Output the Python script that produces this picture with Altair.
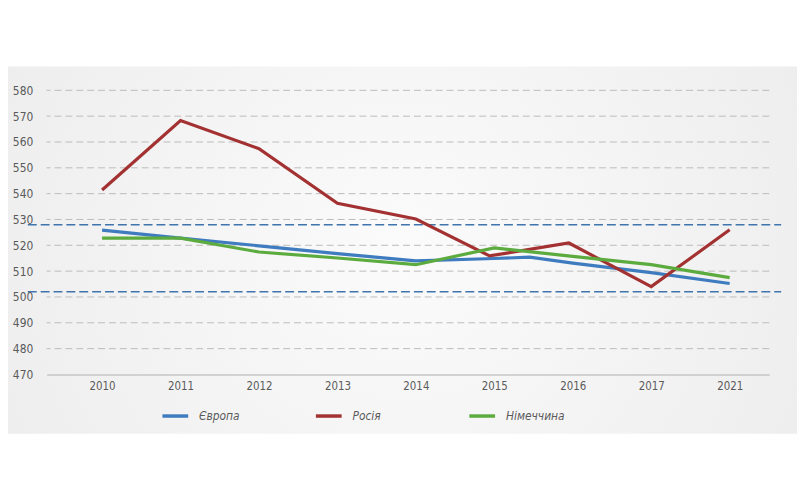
import altair as alt
import pandas as pd

# ---- data ----
years = ["2010", "2011", "2012", "2013", "2014", "2015", "2016", "2017", "2021"]
series_names = ["Європа", "Росія", "Німеччина"]
series_colors = ["#3f7cbf", "#a33131", "#5cab3f"]

europe_pos = [0, 1, 2, 3, 4, 5, 5.45, 6, 7, 8]
europe_val = [525.9, 522.8, 519.8, 516.8, 514.0, 514.9, 515.4, 513.1, 509.4, 505.2]

russia_pos = [0, 1, 2, 3, 4, 4.94, 5.95, 7, 8]
russia_val = [541.4, 568.3, 557.4, 536.3, 530.2, 515.9, 520.9, 504.0, 526.0]

germany_pos = [0, 1, 2, 3, 4, 5, 6, 7, 8]
germany_val = [522.8, 522.8, 517.4, 515.1, 512.5, 519.0, 515.7, 512.5, 507.5]

ref_levels = [528, 502]
y_ticks = [470, 480, 490, 500, 510, 520, 530, 540, 550, 560, 570, 580]
grid_ticks = y_ticks[1:]

FONT = "DejaVu Sans Condensed, Liberation Sans Narrow, Liberation Sans, sans-serif"

rows = []
for name, ps, vs in [
    (series_names[0], europe_pos, europe_val),
    (series_names[1], russia_pos, russia_val),
    (series_names[2], germany_pos, germany_val),
]:
    for p, v in zip(ps, vs):
        rows.append({"series": name, "pos": p, "value": v})
df = pd.DataFrame(rows)

W, H = 730, 287
x_scale = alt.Scale(domain=[-0.707, 8.505], nice=False, zero=False)
y_scale = alt.Scale(domain=[470, 580], nice=False, zero=False)

label_expr = "[" + ",".join("'%s'" % y for y in years) + "][datum.value]"

y_axis = alt.Axis(
    values=y_ticks,
    title=None,
    grid=False,
    ticks=False,
    domain=False,
    labelFont=FONT,
    labelFontSize=12,
    labelColor="#5a5a5a",
    labelPadding=14,
    zindex=1,
)

bg = alt.Chart(pd.DataFrame({"k": [0]})).mark_rect(
    color={
        "gradient": "radial",
        "x1": 0.5, "y1": 0.5, "r1": 0,
        "x2": 0.5, "y2": 0.5, "r2": 0.75,
        "stops": [
            {"offset": 0, "color": "#fbfbfb"},
            {"offset": 1, "color": "#e9e9e9"},
        ],
    }
).encode(
    x=alt.value(-39), x2=alt.value(758), y=alt.value(-24), y2=alt.value(347)
)

grid = alt.Chart(pd.DataFrame({"value": grid_ticks})).mark_rule(
    color="#bcbcbc", strokeWidth=1, strokeDash=[7, 4]
).encode(y=alt.Y("value:Q", scale=y_scale, axis=y_axis))

refs = alt.Chart(pd.DataFrame({"value": ref_levels})).mark_rule(
    color="#3f74ad", strokeWidth=1.5, strokeDash=[9, 4]
).encode(
    y=alt.Y("value:Q", scale=y_scale, axis=y_axis),
    x=alt.value(-19),
    x2=alt.value(742),
)

lines = alt.Chart(df).mark_line(strokeWidth=3.2, strokeCap="butt", strokeJoin="miter").encode(
    x=alt.X(
        "pos:Q",
        scale=x_scale,
        axis=alt.Axis(
            values=list(range(len(years))),
            labelExpr=label_expr,
            title=None,
            grid=False,
            ticks=False,
            domain=True,
            domainColor="#c6c6c6",
            domainWidth=1.5,
            labelFont=FONT,
            labelFontSize=11.5,
            labelColor="#5a5a5a",
            labelPadding=6,
            zindex=1,
        ),
    ),
    y=alt.Y("value:Q", scale=y_scale, axis=y_axis),
    color=alt.Color(
        "series:N",
        scale=alt.Scale(domain=series_names, range=series_colors),
        sort=series_names,
        legend=alt.Legend(
            title=None,
            orient="none",
            legendX=115,
            legendY=314,
            direction="horizontal",
            symbolType="stroke",
            symbolSize=676,
            symbolStrokeWidth=3.5,
            labelFont=FONT,
            labelFontStyle="italic",
            labelFontSize=12,
            labelColor="#5a5a5a",
            labelOffset=9,
            gridAlign="all",
            columnPadding=51,
            zindex=1,
        ),
    ),
    order=alt.Order("pos:Q"),
)

chart = alt.layer(bg, grid, refs, lines).properties(
    width=W,
    height=H,
    autosize=alt.AutoSizeParams(type="none"),
    padding={"left": 39, "top": 81, "right": 28, "bottom": 60},
    background="white",
).configure_view(strokeWidth=0)

chart.save("out.html", embed_options={"renderer": "svg", "actions": False})
